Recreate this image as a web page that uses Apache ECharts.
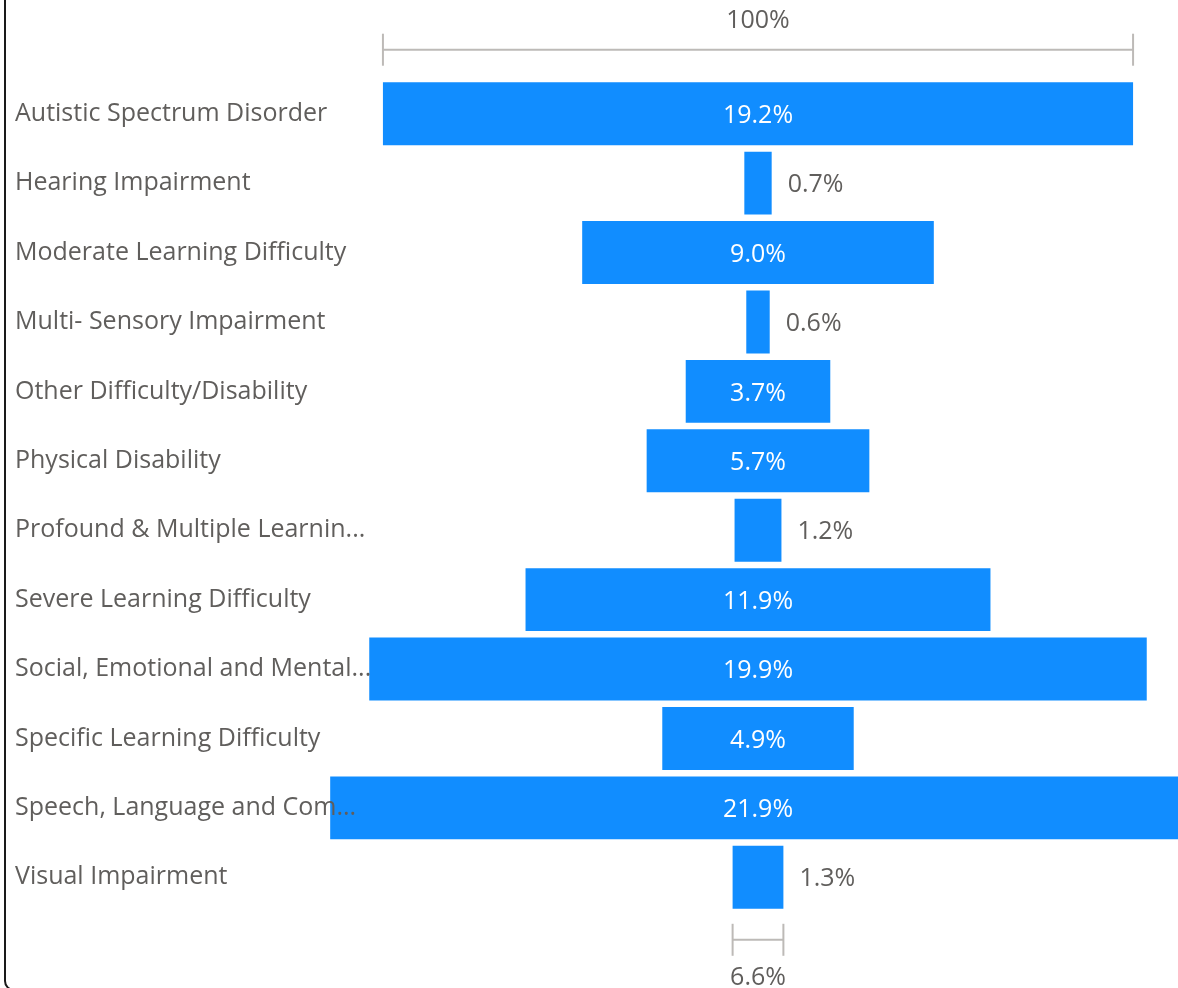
<!DOCTYPE html>
<html>
<head>
<meta charset="utf-8">
<script src="https://cdn.jsdelivr.net/npm/echarts@6/dist/echarts.min.js"></script>
<style>
  html, body { margin: 0; padding: 0; background: #fff; overflow: hidden; }
  #chart { position: absolute; left: 0; top: 0; width: 1178px; height: 988px; }
  #frame {
    position: absolute; left: 4px; top: -20px; width: 1300px; height: 1011px;
    box-sizing: border-box; border: 2px solid #1a1a1a; border-radius: 10px;
  }
</style>
</head>
<body>
<div id="frame"></div>
<div id="chart"></div>
<script>
const categories = [
  "Autistic Spectrum Disorder",
  "Hearing Impairment",
  "Moderate Learning Difficulty",
  "Multi- Sensory Impairment",
  "Other Difficulty/Disability",
  "Physical Disability",
  "Profound & Multiple Learnin...",
  "Severe Learning Difficulty",
  "Social, Emotional and Mental...",
  "Specific Learning Difficulty",
  "Speech, Language and Com...",
  "Visual Impairment"
];
const values = [19.2, 0.7, 9.0, 0.6, 3.7, 5.7, 1.2, 11.9, 19.9, 4.9, 21.9, 1.3];
const bracketLabels = ["100%", "6.6%"];

const barColor = "#118DFF";
const textColor = "#605E5C";
const bracketColor = "#BDBAB7";
const fontFamily = "'Segoe UI', 'Open Sans', sans-serif";
const fontSize = 25;

const chart = echarts.init(document.getElementById("chart"));

function renderBar(params, api) {
  const v = api.value(0);
  const idx = api.value(1);
  const left = api.coord([-v / 2, idx]);
  const right = api.coord([v / 2, idx]);
  const h = api.size([0, 1])[1] * 0.9075;
  const w = right[0] - left[0];
  const inside = w > 80;
  return {
    type: "group",
    children: [
      {
        type: "rect",
        shape: { x: left[0], y: left[1] - h / 2, width: w, height: h },
        style: { fill: barColor }
      },
      {
        type: "text",
        z2: 10,
        style: {
          text: v.toFixed(1) + "%",
          x: inside ? (left[0] + right[0]) / 2 : right[0] + 16,
          y: left[1] + 2,
          align: inside ? "center" : "left",
          verticalAlign: "middle",
          fill: inside ? "#fff" : textColor,
          font: fontSize + "px " + fontFamily
        }
      }
    ]
  };
}

const bracketData = [
  [values[0], 0],
  [values[values.length - 1], values.length - 1]
];

function renderBracket(params, api) {
  const v = api.value(0);
  const idx = api.value(1);
  const top = params.dataIndex === 0;
  const left = api.coord([-v / 2, idx]);
  const right = api.coord([v / 2, idx]);
  const ly = top ? left[1] - 64 : left[1] + 62.5;
  const ty = top ? left[1] - 93 : left[1] + 101;
  const st = { stroke: bracketColor, lineWidth: 2 };
  return {
    type: "group",
    children: [
      { type: "line", shape: { x1: left[0], y1: ly, x2: right[0], y2: ly }, style: st },
      { type: "line", shape: { x1: left[0], y1: ly - 16, x2: left[0], y2: ly + 16 }, style: st },
      { type: "line", shape: { x1: right[0], y1: ly - 16, x2: right[0], y2: ly + 16 }, style: st },
      {
        type: "text",
        style: {
          text: bracketLabels[params.dataIndex],
          x: (left[0] + right[0]) / 2,
          y: ty,
          align: "center",
          verticalAlign: "middle",
          fill: textColor,
          font: fontSize + "px " + fontFamily
        }
      }
    ]
  };
}

chart.setOption({
  animation: false,
  grid: { left: 338, right: 0, top: 79, height: 833 },
  xAxis: { type: "value", min: -10.75, max: 10.75, show: false },
  yAxis: {
    type: "category",
    data: categories,
    inverse: true,
    z: 10,
    axisLine: { show: false },
    axisTick: { show: false },
    splitLine: { show: false },
    axisLabel: {
      align: "left",
      margin: 323,
      padding: [4, 0, 0, 0],
      color: textColor,
      fontSize: fontSize,
      fontFamily: fontFamily
    }
  },
  series: [
    {
      type: "custom",
      renderItem: renderBar,
      encode: { x: 0, y: 1 },
      clip: false,
      data: values.map((v, i) => [v, i])
    },
    {
      type: "custom",
      renderItem: renderBracket,
      encode: { x: 0, y: 1 },
      clip: false,
      data: bracketData
    }
  ]
});
</script>
</body>
</html>
